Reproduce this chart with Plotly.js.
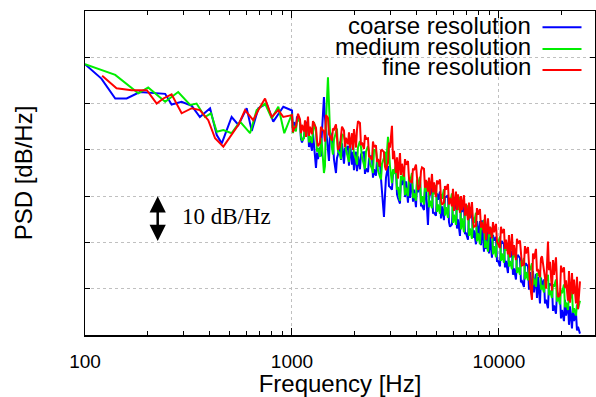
<!DOCTYPE html>
<html>
<head>
<meta charset="utf-8">
<script src="https://cdn.plot.ly/plotly-3.0.1.min.js"></script>
<style>html,body{margin:0;padding:0;background:#fff;}#chart{width:596px;height:397px;}</style>
</head>
<body>
<div id="chart"></div>
<script>
// ---- data ----
const seriesNames = ["coarse resolution", "medium resolution", "fine resolution"];
const seriesColors = ["#0000ff", "#00ee00", "#ff0000"];

// high-frequency sample positions (Hz): three interleaved grids
const freqHigh = [1000,1045,1093,1143,1195,1249,1306,1365,1427,1492,1560,1631,1705,1783,1864,1949,2038,2130,2227,2329,2435,2545,2661,2782,2909,3041,3180,3324,3476,3634,3799,3972,4153,4342,4539,4746,4962,5187,5423,5670,5928,6198,6480,6775,7083,7405,7742,8094,8463,8848,9250,9671,10111,10571,11052,11555,12081,12631,13205,13806,14435,15091,15778,16496,17247,18032,18852,19710,20607,21545,22525,23550,24622];
const freqMid = [1022,1069,1118,1169,1222,1277,1335,1396,1459,1526,1595,1668,1744,1823,1906,1993,2084,2179,2278,2381,2490,2603,2722,2845,2975,3110,3252,3400,3555,3716,3885,4062,4247,4440,4642,4853,5074,5305,5546,5799,6063,6338,6627,6929,7244,7573,7918,8278,8655,9049,9460,9891,10340,10811,11303,11818,12356,12918,13506,14121,14763,15435,16137,16872,17640,18442,19281,20158,21076,22035,23037,24085];
const freqQ = [1011,1057,1105,1156,1208,1263,1321,1380,1443,1509,1577,1649,1724,1803,1885,1971,2061,2154,2252,2355,2462,2574,2691,2813,2942,3075,3216,3361,3515,3675,3842,4016,4200,4391,4590,4799,5018,5245,5484,5734,5994,6267,6553,6851,7162,7488,7829,8185,8558,8947,9354,9779,10224,10689,11176,11684,12216,12772,13353,13961,14597,15260,15955,16681,17440,18234,19063,19931,20838,21786,22777,23814];

// coarse resolution
const coarseFreqLow = [100,120,140,159,184,206,244,262,293,328,359,402,433,458,511,551,604,639,688,755,812,908];
const coarseLow = [58.5,55.4,51.1,51.1,52.5,52.4,52.1,49.8,50.4,49.5,47.1,49.0,43.2,41.4,47.1,45.4,49.0,44.1,49.0,50.0,46.1,49.3];
const coarseHigh = [48.5,44.8,46.2,43.0,45.5,39.8,36.1,40.5,51.4,40.0,43.0,35.0,41.8,37.0,40.8,36.8,39.6,35.8,39.5,35.2,38.6,34.4,37.4,25.5,36.5,31.4,35.8,28.4,34.8,28.6,34.2,27.6,33.4,27.0,23.8,32.0,25.8,31.0,24.8,30.2,23.9,29.6,21.4,28.2,20.6,26.6,19.6,24.6,18.0,22.6,16.7,21.2,14.8,19.6,13.4,18.2,12.0,16.6,10.4,14.8,8.6,13.2,6.8,12.0,5.8,10.6,4.6,8.6,3.0,6.8,1.4,4.8,0.3];
const coarseMid = [46.0,47.0,41.6,46.0,42.0,41.6,38.0,44.0,45.0,43.8,38.0,39.0,41.4,40.2,41.6,35.6,38.6,39.4,36.0,38.6,35.8,36.4,31.0,34.0,32.0,35.6,29.6,32.4,33.2,29.6,31.4,30.8,28.0,31.2,30.4,26.4,29.2,27.8,29.8,23.4,27.0,25.0,26.6,22.0,25.4,22.6,21.0,24.8,18.6,21.6,20.4,16.0,20.2,16.0,16.8,14.4,17.2,11.6,15.4,13.6,9.2,12.6,10.6,7.6,11.0,6.4,8.8,5.4,4.2,6.2,3.0,1.8];
const coarseQ = [44.0,47.2,42.4,45.0,40.6,43.6,39.4,38.6,47.0,37.6,41.8,38.2,37.8,40.4,36.6,39.6,35.4,39.0,34.8,38.0,34.0,37.8,33.8,30.0,32.2,35.0,30.4,33.8,29.8,33.2,28.8,32.6,28.0,31.8,29.4,26.4,30.6,25.2,29.8,24.4,28.6,23.0,27.4,22.0,26.0,21.0,24.6,19.4,23.0,17.6,21.6,16.0,20.2,14.6,18.8,13.0,17.0,11.4,15.4,9.8,13.8,8.0,12.4,6.8,11.0,5.2,9.4,3.6,7.6,2.2,5.8,1.0];

// medium resolution
const mediumFreqLow = [100,140,181,202,244,282,322,346,380,406,433,466,511,561,627,675,741,798,859,918];
const mediumLow = [58.5,56.2,52.2,53.5,50.4,52.5,49.7,50.0,47.1,47.9,43.9,44.3,43.6,46.1,43.6,48.6,50.0,46.8,49.3,43.6];
const mediumHigh = [47.8,44.0,46.0,42.5,45.2,41.5,44.0,38.5,35.0,55.7,40.5,43.8,39.0,43.0,38.2,42.4,37.9,41.9,36.8,40.8,35.9,39.8,34.2,38.3,42.8,32.8,36.9,29.0,35.4,30.0,35.0,29.0,34.2,28.2,33.2,27.4,32.4,26.2,31.5,25.3,30.6,23.8,29.8,22.2,28.0,20.8,26.4,19.6,24.9,18.0,23.2,16.8,21.3,15.6,19.7,14.2,18.0,13.0,16.6,11.8,15.5,10.4,14.0,9.2,13.0,8.0,12.0,6.6,10.9,5.4,9.4,4.2,7.4];
const mediumMid = [45.2,46.6,42.0,45.4,43.0,46.0,40.4,41.0,46.0,44.0,42.2,39.8,43.4,40.0,41.0,39.2,40.6,38.4,39.6,37.0,40.0,35.6,37.0,36.0,36.4,34.8,32.0,33.4,31.8,33.0,30.6,32.4,30.0,31.0,29.0,30.4,28.2,29.4,27.6,28.6,26.0,27.0,25.2,25.8,23.0,24.2,22.0,22.8,20.4,21.2,19.2,19.8,17.6,18.2,16.0,16.8,14.6,15.4,13.6,14.0,12.2,12.8,10.8,11.6,9.6,10.4,8.4,9.0,7.0,7.8,5.8,5.6];
const mediumQ = [43.6,46.4,42.8,45.6,41.6,44.8,39.6,42.6,36.5,50.0,39.0,44.6,38.0,42.0,37.4,41.6,36.8,40.6,35.8,39.8,35.0,38.2,33.6,39.6,38.0,35.8,31.4,34.4,30.2,34.0,29.6,33.6,28.6,32.6,27.6,31.8,26.6,30.4,25.8,29.6,24.2,28.4,22.8,27.0,21.4,25.4,20.2,24.0,18.8,22.2,17.4,20.6,16.0,19.0,14.8,17.2,13.4,16.0,12.0,14.6,10.8,13.4,9.8,12.2,8.6,11.0,7.2,9.8,6.0,8.4,4.8,6.6];

// fine resolution
const fineFreqLow = [121,142,168,199,222,239,262,293,328,359,394,425,466,511,551,593,650,688,741,798,859,908];
const fineLow = [56.0,53.3,52.9,52.9,50.0,51.1,52.0,47.9,49.0,48.6,46.4,42.5,40.7,43.2,45.4,48.6,46.4,48.6,51.1,47.1,48.6,47.1];
const fineHigh = [47.5,45.0,46.6,44.0,47.2,43.4,44.8,41.5,44.0,46.9,42.0,45.5,40.8,44.2,41.2,43.6,40.5,45.8,40.2,42.5,37.8,41.0,36.4,39.5,37.2,45.2,35.0,39.3,34.2,37.6,33.0,36.8,32.0,35.9,31.0,34.8,29.8,33.6,28.6,32.6,27.8,31.0,26.4,30.2,24.8,28.7,23.6,27.2,22.0,25.2,20.9,24.0,18.8,22.9,17.4,21.8,16.2,20.4,15.2,19.0,7.6,18.6,12.5,14.5,20.2,9.6,16.8,8.6,14.6,7.4,13.4,6.8,11.6];
const fineMid = [44.6,47.8,45.4,42.8,45.0,45.8,40.8,44.5,47.5,43.0,44.4,40.0,45.0,42.6,40.4,44.5,46.2,41.6,42.4,38.5,40.6,38.0,40.0,35.6,40.5,39.8,33.8,37.0,36.8,33.2,35.6,31.4,36.2,33.5,30.2,33.0,32.6,28.2,31.4,29.6,26.8,30.4,27.0,28.4,25.2,23.4,26.0,24.4,20.6,23.4,22.2,19.6,22.0,20.6,16.8,19.4,19.8,15.0,17.6,11.0,16.4,14.0,17.0,10.0,15.8,13.0,8.2,13.6,11.8,7.0,12.0,5.6];
const fineQ = [43.8,46.8,43.6,46.4,43.0,46.2,42.0,45.0,41.8,43.4,44.6,41.6,43.8,40.6,43.8,40.0,44.4,41.0,43.2,38.6,41.8,37.4,39.8,36.4,41.6,38.0,38.4,34.6,38.0,33.8,36.0,32.6,35.4,31.8,34.0,30.8,33.4,29.4,32.2,28.2,31.6,27.0,30.0,25.8,28.6,24.6,27.4,23.2,26.0,21.8,24.4,20.2,23.4,18.6,21.6,17.2,20.8,16.4,19.2,15.4,17.6,13.8,16.6,12.4,14.0,16.2,11.4,15.0,10.2,13.8,8.8,12.6];

const xTickVals = [100, 1000, 10000];
const xTickText = ["100", "1000", "10000"];
const xMinorVals = [200,300,400,500,600,700,800,900,2000,3000,4000,5000,6000,7000,8000,9000,20000];

// ---- build traces ----
function merge(fLow, vLow, vHigh, vMid, vQ) {
  const pts = [];
  fLow.forEach((f, k) => pts.push([f, vLow[k]]));
  freqHigh.forEach((f, k) => pts.push([f, vHigh[k]]));
  freqMid.forEach((f, k) => pts.push([f, vMid[k]]));
  freqQ.forEach((f, k) => pts.push([f, vQ[k]]));
  pts.sort((a, b) => a[0] - b[0]);
  return {x: pts.map(p => p[0]), y: pts.map(p => p[1])};
}
const data = [
  merge(coarseFreqLow, coarseLow, coarseHigh, coarseMid, coarseQ),
  merge(mediumFreqLow, mediumLow, mediumHigh, mediumMid, mediumQ),
  merge(fineFreqLow, fineLow, fineHigh, fineMid, fineQ)
];
const traces = data.map((d, i) => ({
  type: "scatter", mode: "lines", name: seriesNames[i],
  x: d.x, y: d.y,
  line: {color: seriesColors[i], width: 2},
  hoverinfo: "skip"
}));

const sans = "Liberation Sans, Arial, Helvetica, sans-serif";
const W = 596, H = 397, L = 85, R = 595, T = 11, B = 335;
const px2paperX = p => (p - L) / (R - L);
const px2paperY = p => (B - p) / (B - T);

const legendRows = [25.7, 46.3, 66.3];
const legendLineY = [27.3, 49, 70];
const annotations = seriesNames.map((n, i) => ({
  xref: "paper", yref: "paper", x: px2paperX(533), y: px2paperY(legendRows[i]),
  xanchor: "right", yanchor: "middle", text: n, showarrow: false,
  font: {family: sans, size: 24, color: "#000"}
}));
const shapes = seriesNames.map((n, i) => ({
  type: "line", xref: "paper", yref: "paper",
  x0: px2paperX(542.5), x1: px2paperX(581.5), y0: px2paperY(legendLineY[i]), y1: px2paperY(legendLineY[i]),
  line: {color: seriesColors[i], width: 2}
}));

// 10 dB scale arrow + label
annotations.push({
  xref: "x", yref: "y", x: Math.log10(224.5), y: 30, axref: "x", ayref: "y", ax: Math.log10(224.5), ay: 20,
  text: "", showarrow: true, arrowhead: 2, arrowside: "end+start", arrowwidth: 2.5, arrowsize: 1.3,
  arrowcolor: "#000", standoff: 0, startstandoff: 0
});
annotations.push({
  xref: "paper", yref: "y", x: px2paperX(180), y: 25.5, xanchor: "left", yanchor: "middle",
  text: "10 dB/Hz", showarrow: false, font: {family: "Liberation Serif, Times New Roman, serif", size: 23, color: "#000"}
});

const layout = {
  width: W, height: H,
  margin: {l: L, r: W - R, t: T, b: H - B, pad: 0},
  paper_bgcolor: "#fff", plot_bgcolor: "#fff",
  showlegend: false,
  font: {family: sans, color: "#000"},
  xaxis: {
    type: "log", range: [2, Math.log10(29100)],
    tickmode: "array", tickvals: xTickVals, ticktext: xTickText,
    ticks: "inside", ticklen: 7, tickwidth: 1, tickcolor: "#000",
    tickfont: {family: sans, size: 19, color: "#000"}, ticklabelstandoff: 9,
    showgrid: true, gridcolor: "#c0c0c0", griddash: "dot", gridwidth: 1,
    minor: {tickvals: xMinorVals, ticks: "inside", ticklen: 4, tickcolor: "#000", showgrid: false},
    showline: true, linecolor: "#000", linewidth: 1.5, mirror: "ticks",
    zeroline: false, automargin: false,
    title: {text: "Frequency [Hz]", font: {family: sans, size: 24, color: "#000"}, standoff: 7}
  },
  yaxis: {
    range: [0, 70], dtick: 10, tick0: 0, showticklabels: false,
    ticks: "inside", ticklen: 5, tickcolor: "#000",
    showgrid: true, gridcolor: "#c0c0c0", griddash: "dot", gridwidth: 1,
    showline: true, linecolor: "#000", linewidth: 1.5, mirror: "ticks",
    zeroline: false, automargin: false,
    title: {text: "PSD [dB/Hz]", font: {family: sans, size: 24, color: "#000"}, standoff: 44}
  },
  annotations: annotations,
  shapes: shapes
};

Plotly.newPlot("chart", traces, layout, {staticPlot: true, displayModeBar: false});
</script>
</body>
</html>
